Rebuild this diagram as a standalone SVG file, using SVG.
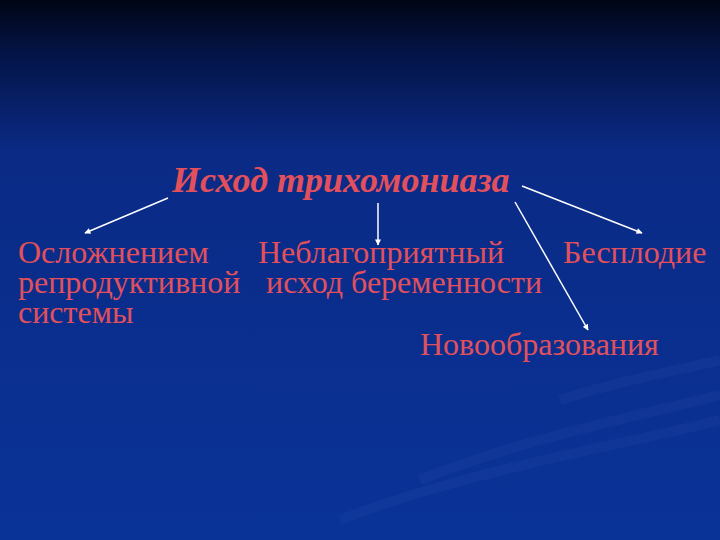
<svg xmlns="http://www.w3.org/2000/svg" width="720" height="540" viewBox="0 0 720 540">
<defs>
<linearGradient id="bg" x1="0" y1="0" x2="0" y2="1">
<stop offset="0" stop-color="#000515"/>
<stop offset="0.1" stop-color="#041447"/>
<stop offset="0.28" stop-color="#0a2a85"/>
<stop offset="1" stop-color="#0a3398"/>
</linearGradient>
<marker id="ah" viewBox="0 0 10 10" refX="9" refY="5" markerWidth="7" markerHeight="6" orient="auto" markerUnits="userSpaceOnUse">
<path d="M0,0 L10,5 L0,10 z" fill="#ffffff"/>
</marker>
<style>
.t{font-family:"Liberation Serif","Times New Roman",serif;font-size:32px;fill:#e2505c}
.title{font-family:"Liberation Serif","Times New Roman",serif;font-size:36px;font-weight:bold;font-style:italic;fill:#e2505c}
.c{stroke:#ffffff;stroke-width:1.5;fill:none;marker-end:url(#ah)}
</style>
</defs>
<rect width="720" height="540" fill="url(#bg)"/>
<g opacity="0.06" fill="none" stroke="#6a8fe0" stroke-width="10">
<path d="M340,520 C470,470 600,450 720,420"/>
<path d="M420,480 C520,440 620,420 720,395"/>
<path d="M560,400 C620,380 680,370 720,360"/>
</g>
<g id="root"><text class="title" x="172" y="192">Исход трихомониаза</text></g>
<g id="n1"><text class="t" x="18" y="263">Осложнением</text><text class="t" x="18" y="293">репродуктивной</text><text class="t" x="18" y="323">системы</text></g>
<g id="n2"><text class="t" x="258" y="263">Неблагоприятный</text><text class="t" x="266" y="293">исход беременности</text></g>
<g id="n3"><text class="t" x="563" y="263">Бесплодие</text></g>
<g id="n4"><text class="t" x="420" y="355">Новообразования</text></g>
<g id="connectors">
<line class="c" x1="168" y1="198" x2="85" y2="233"/>
<line class="c" x1="378" y1="203" x2="378" y2="245"/>
<line class="c" x1="522" y1="186" x2="642" y2="233"/>
<line class="c" x1="515" y1="202" x2="588" y2="330"/>
</g>
</svg>
